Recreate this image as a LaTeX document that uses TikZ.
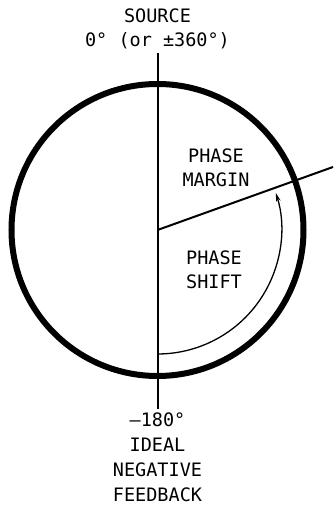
\documentclass[tikz,border=0pt]{standalone}
\usepackage{fontspec}
\setmonofont{DejaVu Sans Mono}
\usetikzlibrary{arrows.meta}

\begin{document}
\begin{tikzpicture}[
  x=1pt, y=1pt,
  label/.style={align=center, inner sep=0pt,
                font=\ttfamily\fontsize{18.5}{24}\selectfont},
  axis/.style={line width=2pt},
  ring/.style={line width=6pt},
  arr/.style={-{Stealth[length=9pt, width=4.5pt]}, line width=1.3pt},
]
\useasboundingbox (0,0) rectangle (333,507);
\coordinate (O)    at (157.5,277);
\coordinate (top)  at (157.5,454);
\coordinate (bot)  at (157.5,98);
\coordinate (edge) at (333,340);
\coordinate (start) at (157.5,153);
\node[label] (source)   at (157.5,478) {SOURCE\\0° (or ±360°)};
\node[label] (margin)   at (216,339.5) {PHASE\\MARGIN};
\node[label] (shift)    at (214,237.5) {PHASE\\SHIFT};
\node[label, font=\ttfamily\fontsize{18.5}{25}\selectfont]
             (feedback) at (157.5,49.5) {–180°\\IDEAL\\NEGATIVE\\FEEDBACK};
% Kreis und Achsen
\draw[ring] (O) circle (146);
\draw[axis] (top) -- (bot);
\draw[axis] (O) -- (edge);
% Phasenverschiebung
\draw[arr] (start) arc (-90:17.5:124);
\end{tikzpicture}
\end{document}
